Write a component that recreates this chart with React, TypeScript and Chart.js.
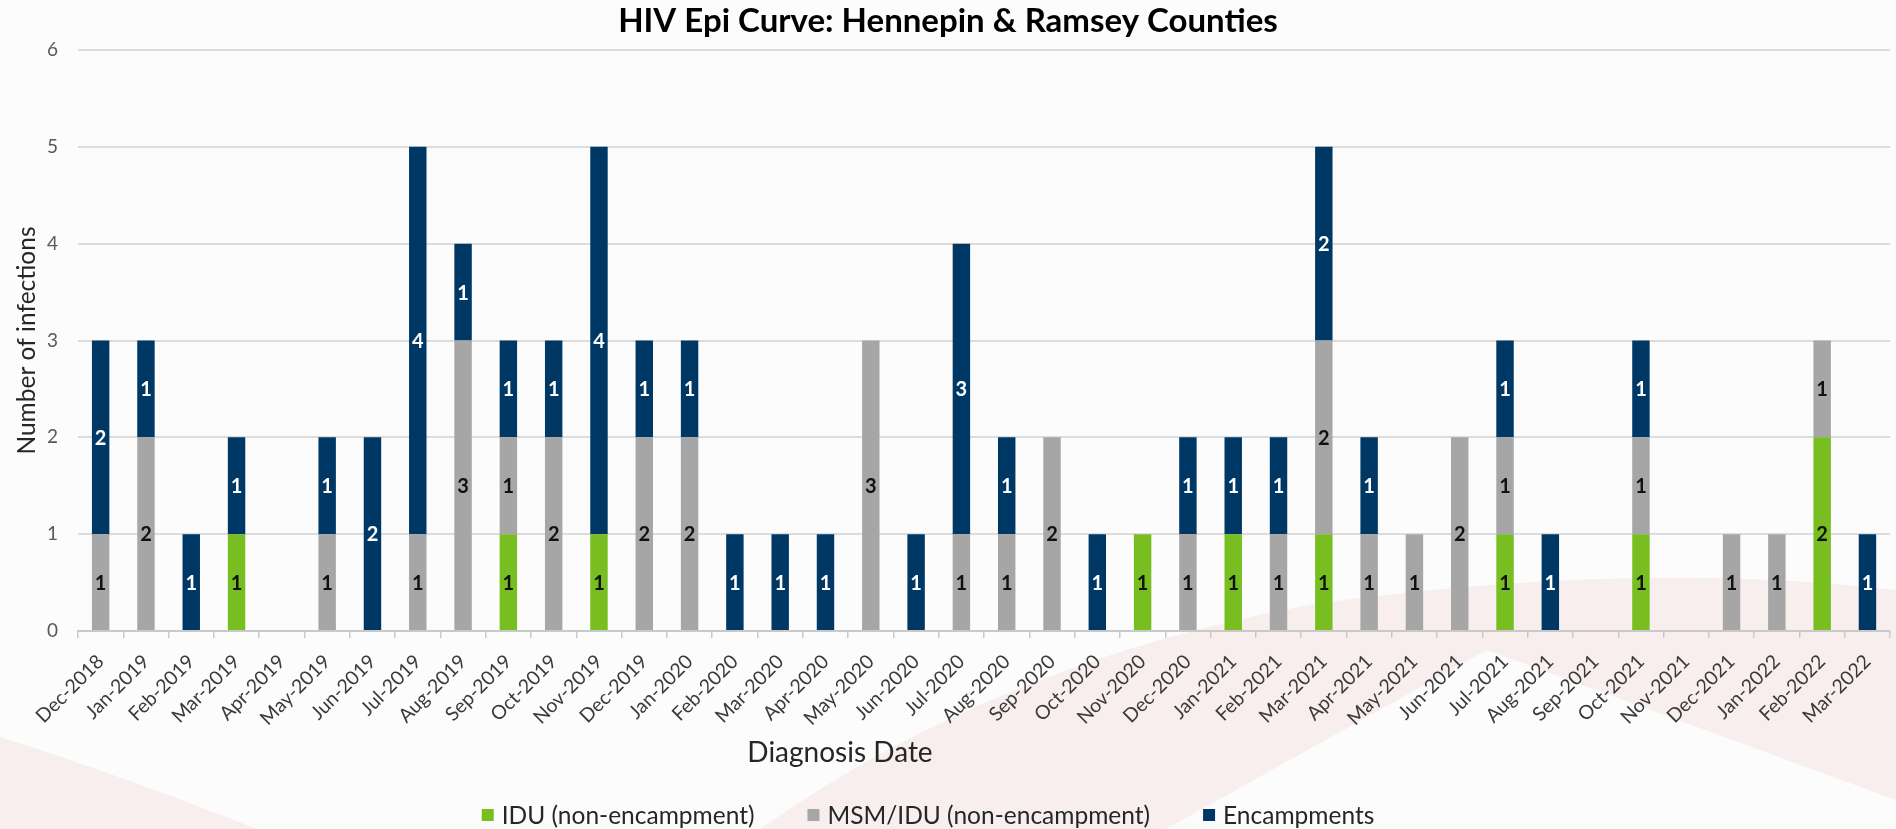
import React, { useEffect, useRef } from 'react';
import { Chart, registerables } from 'chart.js';

Chart.register(...registerables);

const FAMILY = "Lato, 'Open Sans', sans-serif";

const CHART_TITLE = 'HIV Epi Curve: Hennepin & Ramsey Counties';
const Y_TITLE = 'Number of infections';
const X_TITLE = 'Diagnosis Date';

const months = [
  'Dec-2018', 'Jan-2019', 'Feb-2019', 'Mar-2019', 'Apr-2019', 'May-2019', 'Jun-2019', 'Jul-2019',
  'Aug-2019', 'Sep-2019', 'Oct-2019', 'Nov-2019', 'Dec-2019', 'Jan-2020', 'Feb-2020', 'Mar-2020',
  'Apr-2020', 'May-2020', 'Jun-2020', 'Jul-2020', 'Aug-2020', 'Sep-2020', 'Oct-2020', 'Nov-2020',
  'Dec-2020', 'Jan-2021', 'Feb-2021', 'Mar-2021', 'Apr-2021', 'May-2021', 'Jun-2021', 'Jul-2021',
  'Aug-2021', 'Sep-2021', 'Oct-2021', 'Nov-2021', 'Dec-2021', 'Jan-2022', 'Feb-2022', 'Mar-2022',
];

const seriesNames = ['IDU (non-encampment)', 'MSM/IDU (non-encampment)', 'Encampments'];

const iduNonEncampment = [
  0, 0, 0, 1, 0, 0, 0, 0, 0, 1, 0, 1, 0, 0, 0, 0, 0, 0, 0, 0,
  0, 0, 0, 1, 0, 1, 0, 1, 0, 0, 0, 1, 0, 0, 1, 0, 0, 0, 2, 0,
];
const msmIduNonEncampment = [
  1, 2, 0, 0, 0, 1, 0, 1, 3, 1, 2, 0, 2, 2, 0, 0, 0, 3, 0, 1,
  1, 2, 0, 0, 1, 0, 1, 2, 1, 1, 2, 1, 0, 0, 1, 0, 1, 1, 1, 0,
];
const encampments = [
  2, 1, 1, 1, 0, 1, 2, 4, 1, 1, 1, 4, 1, 1, 1, 1, 1, 0, 1, 3,
  1, 0, 1, 0, 1, 1, 1, 2, 1, 0, 0, 1, 1, 0, 1, 0, 0, 0, 0, 1,
];

const yTicks = [0, 1, 2, 3, 4, 5, 6];

const GREEN = '#78be21';
const GRAY = '#a6a6a6';
const NAVY = '#003865';

const bgPlugin = {
  id: 'bgPlugin',
  beforeDraw(chart: any) {
    const { ctx, width, height } = chart;
    ctx.save();
    ctx.fillStyle = '#fcfcfc';
    ctx.fillRect(0, 0, width, height);
    ctx.fillStyle = '#f8eeee';
    // lower-left corner swoosh
    ctx.beginPath();
    ctx.moveTo(0, 737);
    ctx.quadraticCurveTo(120, 775, 257, height);
    ctx.lineTo(0, height);
    ctx.closePath();
    ctx.fill();
    // ribbon on the right
    ctx.beginPath();
    ctx.moveTo(760, height);
    ctx.quadraticCurveTo(1000, 660, 1320, 603);
    ctx.quadraticCurveTo(1640, 560, width, 590);
    ctx.lineTo(width, 800);
    ctx.lineTo(1487, 650);
    ctx.lineTo(1166, height);
    ctx.closePath();
    ctx.fill();
    ctx.restore();
  },
};

const valueLabelPlugin = {
  id: 'valueLabelPlugin',
  afterDatasetsDraw(chart: any) {
    const { ctx } = chart;
    ctx.save();
    ctx.font = `bold 20px ${FAMILY}`;
    ctx.textAlign = 'center';
    ctx.textBaseline = 'middle';
    chart.data.datasets.forEach((ds: any, i: number) => {
      const meta = chart.getDatasetMeta(i);
      meta.data.forEach((el: any, j: number) => {
        const v = ds.data[j];
        if (!v) return;
        ctx.fillStyle = ds.backgroundColor === NAVY ? '#ffffff' : '#111111';
        ctx.fillText(String(v), el.x, (el.y + el.base) / 2 + 1);
      });
    });
    ctx.restore();
  },
};

const bottomTextPlugin = {
  id: 'bottomTextPlugin',
  afterDraw(chart: any) {
    const { ctx } = chart;
    ctx.save();
    ctx.textBaseline = 'middle';
    ctx.textAlign = 'center';
    ctx.fillStyle = '#262626';
    ctx.font = `28px ${FAMILY}`;
    ctx.fillText(X_TITLE, 840, 753);

    ctx.font = `24.5px ${FAMILY}`;
    ctx.textAlign = 'left';
    const sq = 12;
    const gapText = 8;
    const gapItem = 53;
    const items = chart.data.datasets.map((ds: any) => ({
      text: ds.label,
      color: ds.backgroundColor,
      w: ctx.measureText(ds.label).width,
    }));
    const total =
      items.reduce((a: number, it: any) => a + sq + gapText + it.w, 0) + gapItem * (items.length - 1);
    let x = 928 - total / 2;
    const y = 815;
    items.forEach((it: any) => {
      ctx.fillStyle = it.color;
      ctx.fillRect(x, y - sq / 2, sq, sq);
      ctx.fillStyle = '#262626';
      ctx.fillText(it.text, x + sq + gapText, y + 1);
      x += sq + gapText + it.w + gapItem;
    });
    ctx.restore();
  },
};

export default function App() {
  const ref = useRef<HTMLCanvasElement>(null);

  useEffect(() => {
    const canvas = ref.current;
    if (!canvas) return;
    Chart.defaults.font.family = FAMILY;
    const chart = new Chart(canvas, {
      type: 'bar',
      data: {
        labels: months,
        datasets: [
          { label: seriesNames[0], data: iduNonEncampment, backgroundColor: GREEN },
          { label: seriesNames[1], data: msmIduNonEncampment, backgroundColor: GRAY },
          { label: seriesNames[2], data: encampments, backgroundColor: NAVY },
        ],
      },
      options: {
        responsive: false,
        animation: false,
        devicePixelRatio: 1,
        layout: { padding: { left: 0, right: 0, top: 0, bottom: 0 } },
        datasets: { bar: { categoryPercentage: 1, barPercentage: 0.385 } },
        plugins: {
          legend: { display: false },
          tooltip: { enabled: false },
          title: {
            display: true,
            text: CHART_TITLE,
            color: '#000000',
            font: { size: 33, weight: 'bold', family: FAMILY },
            padding: { top: 2, bottom: 8.4 },
          },
        },
        scales: {
          x: {
            stacked: true,
            grid: {
              display: true,
              drawOnChartArea: false,
              offset: true,
              tickLength: 7,
              color: '#c9c9c9',
              lineWidth: 1.5,
            },
            border: { display: true, color: '#c9c9c9', width: 2 },
            ticks: {
              autoSkip: false,
              minRotation: 45,
              maxRotation: 45,
              color: '#3a3a3a',
              font: { size: 19.5, family: FAMILY },
              padding: 12,
            },
            afterFit: (s: any) => {
              s.height = 198;
            },
          },
          y: {
            stacked: true,
            min: 0,
            max: 6,
            grid: { color: '#dcdcdc', lineWidth: 2, drawTicks: false },
            border: { display: false },
            ticks: {
              stepSize: 1,
              color: '#595959',
              font: { size: 19, family: FAMILY },
              padding: 20,
            },
            afterBuildTicks: (s: any) => {
              s.ticks = yTicks.map((v) => ({ value: v }));
            },
            title: {
              display: true,
              text: Y_TITLE,
              color: '#262626',
              font: { size: 24.5, family: FAMILY },
              padding: { top: 12, bottom: 0 },
            },
            afterFit: (s: any) => {
              s.width = 78;
            },
          },
        },
      } as any,
      plugins: [bgPlugin, valueLabelPlugin, bottomTextPlugin],
    });
    return () => chart.destroy();
  }, []);

  return (
    <div style={{ position: 'absolute', left: 0, top: 0, width: 1896, height: 829, overflow: 'hidden' }}>
      <canvas ref={ref} width={1896} height={829} style={{ display: 'block' }} />
    </div>
  );
}
